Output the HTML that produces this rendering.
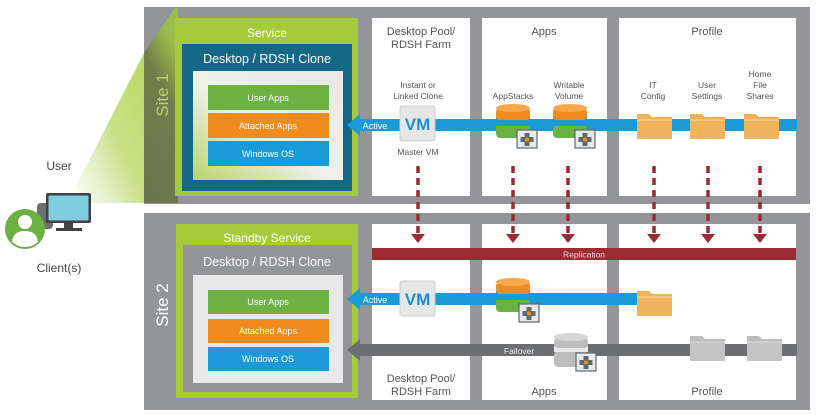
<!DOCTYPE html>
<html><head><meta charset="utf-8"><style>
html,body{margin:0;padding:0;background:#fff}
svg{display:block;font-family:"Liberation Sans",sans-serif}
</style></head><body>
<svg width="817" height="415" viewBox="0 0 817 415" xmlns="http://www.w3.org/2000/svg">
<defs>
<linearGradient id="beam" x1="0" y1="1" x2="1" y2="0">
<stop offset="0" stop-color="#d7e8b0" stop-opacity="0.2"/><stop offset="0.5" stop-color="#bcd96a"/><stop offset="1" stop-color="#a9cf3c"/></linearGradient>
<linearGradient id="olive" x1="0" y1="1" x2="0.3" y2="0">
<stop offset="0" stop-color="#6c7450"/><stop offset="0.7" stop-color="#727d4a"/><stop offset="1" stop-color="#9cbf4a"/></linearGradient>
<linearGradient id="inner" x1="0" y1="1" x2="1" y2="0">
<stop offset="0" stop-color="#b9d46a"/><stop offset="0.45" stop-color="#eef0e8"/><stop offset="1" stop-color="#e8e8e8"/></linearGradient>
<g id="db">
<rect x="0" y="20" width="34" height="14" rx="4" fill="#6bb144"/>
<rect x="0" y="12" width="34" height="10" fill="#1a9ad6"/>
<rect x="0" y="4" width="34" height="12" rx="4" fill="#f08c1e"/>
<ellipse cx="17" cy="4" rx="17" ry="4" fill="#f7a84a"/>
</g>
<g id="badge">
<rect x="0" y="0" width="20" height="18" fill="#e8e8e8" stroke="#5d6b70" stroke-width="1.2"/>
<path d="M7.5 3h5v4h4v5h-4v4h-5v-4h-4v-5h4z" fill="#5d6b70"/>
<circle cx="10" cy="9.5" r="2" fill="#f08c1e"/>
</g>
<g id="folder">
<path d="M0 2h12l3 3h20v22h-35z" fill="#efb25a"/>
<rect x="0" y="8" width="35" height="19" fill="#f0b45e"/>
<line x1="0" y1="8" x2="35" y2="8" stroke="#fbe3bd" stroke-width="0.8"/>
</g>
<g id="gfolder">
<path d="M0 2h12l3 3h20v22h-35z" fill="#bdbdbd"/>
<rect x="0" y="8" width="35" height="19" fill="#c4c4c4"/>
<line x1="0" y1="8" x2="35" y2="8" stroke="#e6e6e6" stroke-width="0.8"/>
</g>
<g id="vm">
<rect x="0" y="0" width="35" height="35" rx="2" fill="#e6e6e6" stroke="#cfcfcf"/>
<text x="17.5" y="24" font-size="17" font-weight="bold" fill="#1a8fd0" text-anchor="middle">VM</text>
</g>
<g id="darr"><line x1="0" y1="0" x2="0" y2="68" stroke="#9b2a35" stroke-width="3.5" stroke-dasharray="7,5"/><path d="M-7 68h14l-7 9z" fill="#9b2a35"/></g>
</defs>

<!-- Site 1 -->
<rect x="144" y="7" width="666" height="197" fill="#939598"/>
<rect x="372" y="18" width="98" height="178" fill="#fff"/>
<rect x="482" y="18" width="125" height="178" fill="#fff"/>
<rect x="619" y="18" width="177" height="178" fill="#fff"/>
<!-- beam -->
<polygon points="76,186 144,53 144,203 86,203" fill="url(#beam)" opacity="0.8"/>
<polygon points="144,53 175,8 178,8 178,203 144,203" fill="url(#olive)"/>
<rect x="175" y="18" width="183" height="178" fill="#a6cb3a"/>
<rect x="182" y="44" width="170" height="147" fill="#146786"/>
<rect x="193" y="71" width="150" height="109" fill="url(#inner)"/>
<rect x="208" y="85" width="121" height="25" fill="#6bb144"/>
<rect x="208" y="113" width="121" height="25" fill="#f08c1e"/>
<rect x="208" y="141" width="121" height="25" fill="#1a9ad6"/>
<text x="267" y="37" font-size="12" fill="#fff" text-anchor="middle">Service</text>
<text x="267" y="63" font-size="12.5" fill="#fff" text-anchor="middle">Desktop / RDSH Clone</text>
<text x="268" y="101" font-size="9" fill="#fff" text-anchor="middle">User Apps</text>
<text x="268" y="129" font-size="9" fill="#fff" text-anchor="middle">Attached Apps</text>
<text x="268" y="157" font-size="9" fill="#fff" text-anchor="middle">Windows OS</text>
<text transform="translate(168,95) rotate(-90)" font-size="17" fill="#b8d46a" text-anchor="middle">Site 1</text>

<text x="421" y="35" font-size="11" fill="#555" text-anchor="middle">Desktop Pool/</text>
<text x="421" y="48" font-size="11" fill="#555" text-anchor="middle">RDSH Farm</text>
<text x="544" y="35" font-size="11" fill="#555" text-anchor="middle">Apps</text>
<text x="707" y="35" font-size="11" fill="#555" text-anchor="middle">Profile</text>
<text x="418" y="88" font-size="8.5" fill="#555" text-anchor="middle">Instant or</text>
<text x="418" y="99" font-size="8.5" fill="#555" text-anchor="middle">Linked Clone</text>
<text x="418" y="155" font-size="8.5" fill="#555" text-anchor="middle">Master VM</text>
<text x="513" y="99" font-size="8.5" fill="#555" text-anchor="middle">AppStacks</text>
<text x="569" y="88" font-size="8.5" fill="#555" text-anchor="middle">Writable</text>
<text x="569" y="99" font-size="8.5" fill="#555" text-anchor="middle">Volume</text>
<text x="653" y="88" font-size="8.5" fill="#555" text-anchor="middle">IT</text>
<text x="653" y="99" font-size="8.5" fill="#555" text-anchor="middle">Config</text>
<text x="707" y="88" font-size="8.5" fill="#555" text-anchor="middle">User</text>
<text x="707" y="99" font-size="8.5" fill="#555" text-anchor="middle">Settings</text>
<text x="760" y="77" font-size="8.5" fill="#555" text-anchor="middle">Home</text>
<text x="760" y="88" font-size="8.5" fill="#555" text-anchor="middle">File</text>
<text x="760" y="99" font-size="8.5" fill="#555" text-anchor="middle">Shares</text>

<rect x="360" y="119" width="437" height="12" fill="#1a9ad6"/>
<path d="M347 125 L360 114 L360 136z" fill="#1a9ad6"/>
<text x="375" y="129" font-size="9" fill="#fff" text-anchor="middle">Active</text>
<use href="#vm" x="400" y="106"/>
<use href="#db" x="496" y="104"/><use href="#badge" x="517" y="130"/>
<use href="#db" x="553" y="104"/><use href="#badge" x="575" y="130"/>
<use href="#folder" x="637" y="112"/>
<use href="#folder" x="690" y="112"/>
<use href="#folder" x="744" y="112"/>

<!-- Site 2 -->
<rect x="144" y="213" width="666" height="197" fill="#939598"/>
<rect x="372" y="224" width="98" height="176" fill="#fff"/>
<rect x="482" y="224" width="125" height="176" fill="#fff"/>
<rect x="619" y="224" width="177" height="176" fill="#fff"/>
<rect x="176" y="224" width="182" height="174" fill="#a6cb3a"/>
<rect x="183" y="245" width="169" height="147" fill="#939598"/>
<rect x="193" y="275" width="150" height="108" fill="#e8e8e8"/>
<rect x="208" y="290" width="121" height="24" fill="#6bb144"/>
<rect x="208" y="319" width="121" height="24" fill="#f08c1e"/>
<rect x="208" y="347" width="121" height="24" fill="#1a9ad6"/>
<text x="267" y="242" font-size="12" fill="#fff" text-anchor="middle">Standby Service</text>
<text x="267" y="266" font-size="12.5" fill="#fff" text-anchor="middle">Desktop / RDSH Clone</text>
<text x="268" y="305" font-size="9" fill="#fff" text-anchor="middle">User Apps</text>
<text x="268" y="334" font-size="9" fill="#fff" text-anchor="middle">Attached Apps</text>
<text x="268" y="362" font-size="9" fill="#fff" text-anchor="middle">Windows OS</text>
<text transform="translate(168,305) rotate(-90)" font-size="17" fill="#fff" text-anchor="middle">Site 2</text>

<rect x="372" y="248" width="424" height="12" fill="#9b2a35"/>
<text x="584" y="257.5" font-size="8.5" fill="#f3d6d9" text-anchor="middle">Replication</text>

<rect x="360" y="293" width="282" height="12" fill="#1a9ad6"/>
<path d="M347 299 L360 288 L360 310z" fill="#1a9ad6"/>
<text x="375" y="303" font-size="9" fill="#fff" text-anchor="middle">Active</text>
<use href="#vm" x="400" y="281"/>
<use href="#db" x="496" y="278"/><use href="#badge" x="519" y="304"/>
<use href="#folder" x="637" y="289"/>

<rect x="360" y="344" width="437" height="12" fill="#6d6e71"/>
<path d="M347 350 L360 339 L360 361z" fill="#6d6e71"/>
<text x="519" y="354" font-size="8.5" fill="#eee" text-anchor="middle">Failover</text>
<g>
<rect x="554" y="351" width="34" height="16" rx="4" fill="#bdbdbd"/>
<rect x="554" y="346" width="34" height="6" fill="#e8e8e8"/>
<rect x="554" y="338" width="34" height="10" rx="4" fill="#bdbdbd"/>
<ellipse cx="571" cy="337" rx="17" ry="4" fill="#d6d6d6"/>
</g>
<use href="#badge" x="576" y="353"/>
<use href="#gfolder" x="690" y="334"/>
<use href="#gfolder" x="747" y="334"/>

<text x="421" y="382" font-size="11" fill="#555" text-anchor="middle">Desktop Pool/</text>
<text x="421" y="395" font-size="11" fill="#555" text-anchor="middle">RDSH Farm</text>
<text x="544" y="395" font-size="11" fill="#555" text-anchor="middle">Apps</text>
<text x="707" y="395" font-size="11" fill="#555" text-anchor="middle">Profile</text>

<!-- dashed arrows -->
<use href="#darr" x="418" y="166"/>
<use href="#darr" x="513" y="166"/>
<use href="#darr" x="568" y="166"/>
<use href="#darr" x="654" y="166"/>
<use href="#darr" x="708" y="166"/>
<use href="#darr" x="760" y="166"/>

<!-- user -->
<text x="59" y="170" font-size="12" fill="#444" text-anchor="middle">User</text>
<text x="59" y="272" font-size="12" fill="#444" text-anchor="middle">Client(s)</text>
<rect x="37" y="203" width="16" height="26" rx="4" fill="#6d6e71"/>
<rect x="46" y="193" width="45" height="30" rx="2" fill="#414042"/>
<rect x="48.5" y="195.5" width="40" height="25" rx="1" fill="#7fcde0"/>
<rect x="64" y="223" width="9" height="5" fill="#414042"/>
<rect x="56" y="228" width="26" height="3" fill="#414042"/>
<circle cx="25" cy="229" r="20" fill="#6bb144"/>
<circle cx="25" cy="222" r="7" fill="#fff"/>
<path d="M12 242 Q13 231 25 231 Q37 231 38 242 Q32 247 25 247 Q18 247 12 242z" fill="#fff"/>
</svg>
</body></html>
